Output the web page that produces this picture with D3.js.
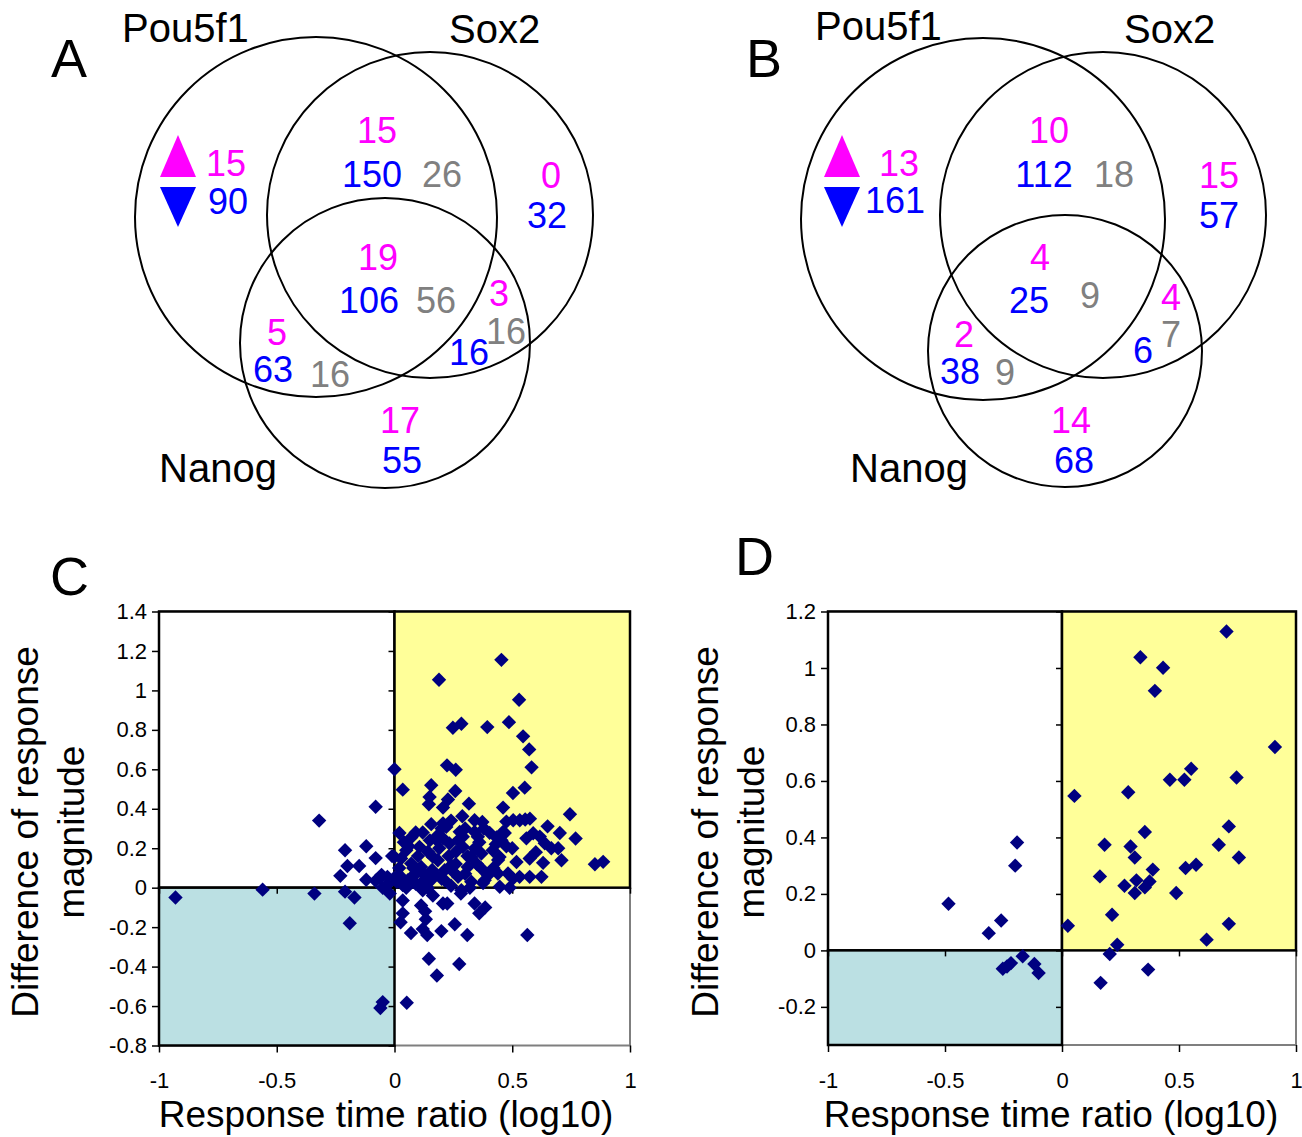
<!DOCTYPE html>
<html><head><meta charset="utf-8">
<script src="https://cdn.jsdelivr.net/npm/d3@7"></script>
<style>
body{margin:0;background:#fff}
svg{display:block}
text{font-family:"Liberation Sans",Arial,Helvetica,sans-serif}
</style>
</head><body>
<svg id="fig" width="1302" height="1137"></svg>
<script>
// ---------------- DATA ----------------
const setNames = ["Pou5f1", "Sox2", "Nanog"];
const vennRegions = ["Pou5f1 only", "Pou5f1+Sox2", "Sox2 only", "all three", "Sox2+Nanog", "Pou5f1+Nanog", "Nanog only"];
const vennA_up    = [15, 15, 0, 19, 3, 5, 17];
const vennA_down  = [90, 150, 32, 106, 16, 63, 55];
const vennA_other = [null, 26, null, 56, 16, 16, null];
const vennB_up    = [13, 10, 15, 4, 4, 2, 14];
const vennB_down  = [161, 112, 57, 25, 6, 38, 68];
const vennB_other = [null, 18, null, 9, 7, 9, null];

const xTicks = [-1, -0.5, 0, 0.5, 1];
const yTicksC = [-0.8, -0.6, -0.4, -0.2, 0, 0.2, 0.4, 0.6, 0.8, 1, 1.2, 1.4];
const yTicksD = [-0.2, 0, 0.2, 0.4, 0.6, 0.8, 1, 1.2];
const xTitle = "Response time ratio (log10)";
const yTitle = ["Difference of response", "magnitude"];

// Panel C points [log10 response time ratio, difference of response magnitude]
const scatterC = [
 [-0.93,-0.05],[-0.56,-0.01],[-0.34,-0.03],[-0.21,-0.02],[-0.17,-0.05],[-0.19,-0.18],[-0.05,-0.58],[-0.06,-0.61],
 [-0.32,0.34],[-0.08,0.41],[-0.21,0.19],[-0.12,0.21],[-0.08,0.15],[-0.20,0.11],[-0.15,0.11],[-0.23,0.06],
 [-0.12,0.04],[-0.01,0.16],[-0.06,0.05],[-0.03,0.055],[-0.05,0.0],[-0.02,-0.03],[-0.08,0.035],[-0.055,0.065],[-0.03,0.015],
 [0.0,0.60],[0.01,0.03],
 [0.035,-0.065],[0.035,-0.13],[0.026,-0.175],[0.07,-0.23],[0.113,-0.09],[0.13,-0.12],[0.133,-0.16],[0.12,-0.21],
 [0.139,-0.24],[0.163,-0.04],[0.199,-0.22],[0.206,-0.08],[0.224,-0.08],[0.256,-0.185],[0.282,-0.03],[0.309,-0.24],
 [0.34,-0.08],[0.36,-0.13],[0.385,-0.10],[0.564,-0.24],[0.146,-0.36],[0.275,-0.387],[0.18,-0.445],[0.052,-0.583],
 [0.12,-0.013],[0.284,-0.013],[0.489,0.0],[0.447,0.005],[0.376,0.024],
 [0.454,1.155],[0.189,1.054],[0.529,0.953],[0.248,0.811],[0.284,0.831],[0.394,0.814],[0.486,0.839],[0.546,0.767],
 [0.572,0.701],[0.582,0.61],[0.223,0.62],[0.26,0.598],[0.035,0.497],[0.156,0.519],[0.258,0.49],[0.149,0.46],
 [0.227,0.447],[0.146,0.423],[0.206,0.406],[0.316,0.426],[0.503,0.48],[0.553,0.507],[0.461,0.406],[0.745,0.372],
 [0.288,0.362],[0.34,0.342],[0.373,0.333],[0.475,0.335],[0.504,0.342],[0.532,0.342],[0.555,0.346],[0.575,0.35],
 [0.156,0.322],[0.206,0.326],[0.22,0.308],[0.021,0.277],[0.071,0.254],[0.184,0.266],[0.206,0.25],[0.277,0.283],
 [0.29,0.258],[0.34,0.283],[0.354,0.258],[0.404,0.278],[0.433,0.255],[0.461,0.283],[0.65,0.311],[0.702,0.277],
 [0.769,0.249],[0.468,0.277],[0.454,0.24],[0.475,0.21],[0.56,0.25],[0.589,0.276],[0.617,0.259],[0.638,0.225],
 [0.666,0.2],[0.695,0.2],[0.05,0.19],[0.0,0.156],[0.028,0.148],[0.106,0.207],[0.142,0.182],[0.163,0.156],
 [0.233,0.224],[0.261,0.182],[0.29,0.207],[0.34,0.198],[0.326,0.156],[0.369,0.173],[0.417,0.19],[0.446,0.156],
 [0.709,0.139],[0.851,0.119],[0.886,0.131],[0.518,0.13],[0.574,0.148],[0.631,0.126],[0.071,0.122],[0.113,0.105],
 [0.128,0.063],[0.184,0.139],[0.213,0.088],[0.241,0.114],[0.311,0.105],[0.369,0.097],[0.397,0.063],[0.021,0.063],
 [0.057,0.038],[0.035,0.013],[0.155,0.038],[0.213,0.038],[0.27,0.055],[0.326,0.03],[0.383,0.038],[0.439,0.072],
 [0.482,0.072],[0.531,0.055],[0.503,0.046],[0.574,0.055],[0.624,0.055],[0.0,0.05],
 [0.20,0.045],[0.13,0.03],[0.09,0.07],[0.16,0.09],[0.24,0.01],[0.30,0.07],[0.35,0.12],[0.42,0.10],[0.10,0.16],
 [0.26,0.12],[0.43,0.22],[0.50,0.20],[0.60,0.18],[0.18,0.24],[0.12,0.28],[0.38,0.30],[0.24,0.34],[0.30,0.30],
 [0.08,0.10],[0.05,0.0],[0.14,0.0],[0.09,0.02],[0.02,0.10],[0.32,0.00],
 [0.06,0.21],[0.09,0.28],[0.15,0.24],[0.19,0.20],[0.23,0.16],[0.27,0.24],[0.31,0.16],[0.36,0.23],[0.11,0.02],
 [0.17,0.07],[0.25,0.08],[0.04,0.23],[0.07,0.05],[0.20,0.30],[0.44,0.14]
];

// Panel D points
const scatterD = [
 [-0.192,0.382],[-0.20,0.30],[-0.485,0.165],[-0.26,0.106],[-0.313,0.061],[-0.168,-0.021],[-0.253,-0.065],
 [-0.218,-0.045],[-0.118,-0.048],[-0.10,-0.08],[-0.235,-0.057],
 [0.703,1.129],[0.335,1.038],[0.432,1.001],[0.397,0.919],[0.91,0.72],[0.552,0.643],[0.461,0.604],[0.523,0.604],
 [0.746,0.612],[0.283,0.56],[0.053,0.547],[0.713,0.439],[0.354,0.419],[0.67,0.374],[0.182,0.374],[0.293,0.368],
 [0.311,0.329],[0.756,0.329],[0.162,0.262],[0.388,0.286],[0.528,0.292],[0.573,0.303],[0.318,0.248],[0.374,0.244],
 [0.267,0.229],[0.354,0.223],[0.311,0.203],[0.488,0.203],[0.214,0.126],[0.025,0.087],[0.713,0.094],[0.236,0.02],
 [0.618,0.038],[0.204,-0.013],[0.368,-0.068],[0.165,-0.115]
];

// ---------------- DRAW ----------------
const svg = d3.select("#fig");
const MAG = "#FF00FF", BLU = "#0000FF", GRY = "#808080";

function panelLetter(t, x, y) {
  svg.append("text").attr("x", x).attr("y", y).attr("font-size", 54).text(t);
}

function drawVenn(up, down, other, L) {
  const g = svg.append("g");
  L.circles.forEach(c => g.append("ellipse").attr("cx", c[0]).attr("cy", c[1]).attr("rx", c[2]).attr("ry", c[3])
    .attr("fill", "none").attr("stroke", "#000").attr("stroke-width", 2));
  L.names.forEach((n, i) => g.append("text").attr("x", n[0]).attr("y", n[1]).attr("font-size", 40).text(setNames[i]));
  const t = L.tri;
  g.append("path").attr("d", `M${t[0]},${t[1]-42} L${t[0]+18},${t[1]} L${t[0]-18},${t[1]} Z`).attr("fill", MAG);
  g.append("path").attr("d", `M${t[0]-18},${t[1]+10} L${t[0]+18},${t[1]+10} L${t[0]},${t[1]+50} Z`).attr("fill", BLU);
  const put = (vals, pos, col) => vals.forEach((v, i) => {
    if (v === null || !pos[i]) return;
    g.append("text").attr("x", pos[i][0]).attr("y", pos[i][1]).attr("text-anchor", "middle")
      .attr("font-size", 36).attr("fill", col).text(v);
  });
  put(up, L.up, MAG);
  put(down, L.down, BLU);
  put(other, L.other, GRY);
}

panelLetter("A", 51, 77);
drawVenn(vennA_up, vennA_down, vennA_other, {
  circles: [[316,217,181,180],[430,215,163,163],[385,343,145,145]],
  names: [[122,42],[449,43],[159,482]],
  tri: [178,177],
  up:    [[226,176],[377,143],[551,188],[378,270],[499,306],[277,345],[400,433]],
  down:  [[228,214],[372,187],[547,228],[369,313],[469,365],[273,382],[402,473]],
  other: [null,[442,187],null,[436,313],[506,344],[330,387],null]
});

panelLetter("B", 746, 77);
drawVenn(vennB_up, vennB_down, vennB_other, {
  circles: [[983,219,182,181],[1103,215,163,163],[1065,351,137,136]],
  names: [[815,40],[1124,43],[850,482]],
  tri: [842,177],
  up:    [[899,176],[1049,143],[1219,188],[1040,270],[1171,310],[964,347],[1071,433]],
  down:  [[895,213],[1044,187],[1219,228],[1029,313],[1143,363],[960,384],[1074,473]],
  other: [null,[1114,187],null,[1090,308],[1171,347],[1005,385],null]
});

const fmt = d => String(+d.toFixed(2));

function drawScatter(pts, cfg) {
  const x = d3.scaleLinear().domain([-1, 1]).range([cfg.left, cfg.right]);
  const y = d3.scaleLinear().domain(cfg.yDomain).range([cfg.bottom, cfg.top]);
  const [y0, y1] = cfg.yDomain;
  const g = svg.append("g");
  g.append("rect").attr("x", x(-1)).attr("y", y(y1)).attr("width", x(1) - x(-1)).attr("height", y(y0) - y(y1))
    .attr("fill", "#fff").attr("stroke", "#7f7f7f").attr("stroke-width", 2);
  const quad = (xa, xb, ya, yb, fill) => g.append("rect")
    .attr("x", x(xa)).attr("y", y(yb)).attr("width", x(xb) - x(xa)).attr("height", y(ya) - y(yb))
    .attr("fill", fill).attr("stroke", "#000").attr("stroke-width", 2.5);
  quad(-1, 0, 0, y1, "#fff");
  quad(0, 1, 0, y1, "#FFFF99");
  quad(-1, 0, y0, 0, "#BBE0E3");
  const styleAx = sel => {
    sel.select(".domain").remove();
    sel.selectAll("line").attr("stroke", "#000").attr("stroke-width", 1.5);
    sel.selectAll("text").attr("font-size", 22).attr("fill", "#000")
      .attr("font-family", '"Liberation Sans",Arial,sans-serif');
  };
  g.append("g").attr("transform", `translate(${x(-1)},0)`)
    .call(d3.axisLeft(y).tickValues(cfg.yTicks).tickSize(7).tickPadding(5).tickFormat(fmt)).call(styleAx);
  g.append("g").attr("transform", `translate(${x(0)},0)`)
    .call(d3.axisLeft(y).tickValues(cfg.yTicks).tickSize(6).tickFormat("")).call(styleAx);
  g.append("g").attr("transform", `translate(0,${y(y0)})`)
    .call(d3.axisBottom(x).tickValues(xTicks).tickSize(7).tickPadding(20).tickFormat(fmt)).call(styleAx);
  g.append("g").attr("transform", `translate(0,${y(0)})`)
    .call(d3.axisBottom(x).tickValues(xTicks).tickSize(6).tickFormat("")).call(styleAx);
  const s = 7.2;
  g.append("g").selectAll("path").data(pts).join("path")
    .attr("transform", d => `translate(${x(d[0])},${y(d[1])})`)
    .attr("d", `M0,${-s}L${s},0L0,${s}L${-s},0Z`)
    .attr("fill", "#000080");
  g.append("text").attr("x", cfg.xTitleX).attr("y", 1127).attr("text-anchor", "middle")
    .attr("font-size", 37).text(xTitle);
  yTitle.forEach((t, i) => g.append("text")
    .attr("transform", `translate(${cfg.yTitleX[i]},832) rotate(-90)`)
    .attr("text-anchor", "middle").attr("font-size", 37).text(t));
}

panelLetter("C", 50, 595);
drawScatter(scatterC, {left: 159, right: 630, top: 611.5, bottom: 1045.5, yDomain: [-0.8, 1.4],
  yTicks: yTicksC, xTitleX: 386, yTitleX: [38, 84]});

panelLetter("D", 735, 575);
drawScatter(scatterD, {left: 828, right: 1296, top: 611.5, bottom: 1045, yDomain: [-0.335, 1.2],
  yTicks: yTicksD, xTitleX: 1051, yTitleX: [718, 764]});
</script>
</body></html>
